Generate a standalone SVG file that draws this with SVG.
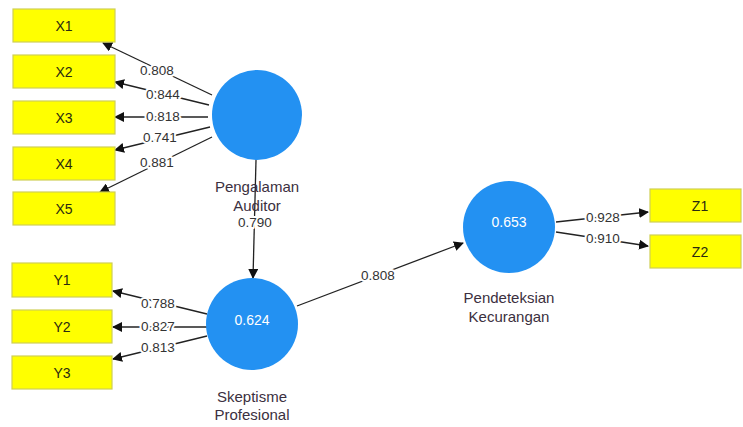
<svg xmlns="http://www.w3.org/2000/svg" width="743" height="427" viewBox="0 0 743 427">
<defs>
<marker id="arr" viewBox="0 0 10 10" refX="9" refY="5" markerWidth="10" markerHeight="10" markerUnits="userSpaceOnUse" orient="auto">
<path d="M0,0 L10,5 L0,10 Z" fill="#111"/>
</marker>
<style>
.box{fill:#ffff00;stroke:#cfcf55;stroke-width:1.2}
.bt{font-family:"Liberation Sans",Arial,sans-serif;font-size:14px;fill:#2a2a10;text-anchor:middle}
.lv{fill:#2391f2}
.lvt{font-family:"Liberation Sans",Arial,sans-serif;font-size:14px;fill:#fff;text-anchor:middle}
.nl{font-family:"Liberation Sans",Arial,sans-serif;font-size:15px;fill:#3b3040;text-anchor:middle}
.ln{stroke:#222;stroke-width:1.3;fill:none;marker-end:url(#arr)}
.el{font-family:"Liberation Sans",Arial,sans-serif;font-size:13.5px;fill:#333;text-anchor:middle;stroke:#fff;stroke-width:4;paint-order:stroke;stroke-linejoin:round}
</style>
</defs>
<rect width="743" height="427" fill="#fff"/>
<g id="connectors">
<path class="ln" d="M212,95 L103,43"/>
<path class="ln" d="M209,105 L115,82"/>
<path class="ln" d="M208,117 L115,117"/>
<path class="ln" d="M210,127 L115,150"/>
<path class="ln" d="M212,137 L100,192"/>
<path class="ln" d="M207,314 L113,291"/>
<path class="ln" d="M207,327 L113,327"/>
<path class="ln" d="M207,336 L113,359"/>
<path class="ln" d="M556,222 L648,212"/>
<path class="ln" d="M556,232 L648,246"/>
<path class="ln" d="M297,306 L463,243"/>
<path class="ln" d="M256,160 L253,278"/>
<text class="el" x="157" y="75">0.808</text>
<text class="el" x="163" y="99">0.844</text>
<text class="el" x="163" y="121">0.818</text>
<text class="el" x="160" y="142">0.741</text>
<text class="el" x="157" y="167">0.881</text>
<text class="el" x="158" y="308">0.788</text>
<text class="el" x="158" y="331">0.827</text>
<text class="el" x="158" y="352">0.813</text>
<text class="el" x="603" y="222">0.928</text>
<text class="el" x="603" y="243">0.910</text>
<text class="el" x="378" y="280">0.808</text>
<text class="el" x="255" y="227">0.790</text>
</g>
<g id="X1"><rect class="box" x="13" y="9" width="102" height="33"/><text class="bt" x="64" y="30.5">X1</text></g>
<g id="X2"><rect class="box" x="13" y="55" width="102" height="33"/><text class="bt" x="64" y="76.5">X2</text></g>
<g id="X3"><rect class="box" x="13" y="101" width="102" height="33"/><text class="bt" x="64" y="122.5">X3</text></g>
<g id="X4"><rect class="box" x="13" y="147" width="102" height="33"/><text class="bt" x="64" y="168.5">X4</text></g>
<g id="X5"><rect class="box" x="13" y="192" width="102" height="33"/><text class="bt" x="64" y="213.5">X5</text></g>
<g id="Y1"><rect class="box" x="12" y="263" width="100" height="34"/><text class="bt" x="62" y="285">Y1</text></g>
<g id="Y2"><rect class="box" x="12" y="310" width="100" height="33"/><text class="bt" x="62" y="331.5">Y2</text></g>
<g id="Y3"><rect class="box" x="12" y="356" width="100" height="33"/><text class="bt" x="62" y="377.5">Y3</text></g>
<g id="Z1"><rect class="box" x="650" y="189" width="91" height="33"/><text class="bt" x="700" y="210.5">Z1</text></g>
<g id="Z2"><rect class="box" x="650" y="235" width="91" height="33"/><text class="bt" x="700" y="256.5">Z2</text></g>
<g id="PengalamanAuditor">
<circle class="lv" cx="257" cy="115" r="45"/>
<text class="nl" x="257" y="192">Pengalaman</text>
<text class="nl" x="257" y="211">Auditor</text>
</g>
<g id="SkeptismeProfesional">
<circle class="lv" cx="252" cy="324" r="46"/>
<text class="lvt" x="252" y="325">0.624</text>
<text class="nl" x="252" y="402">Skeptisme</text>
<text class="nl" x="252" y="420">Profesional</text>
</g>
<g id="PendeteksianKecurangan">
<circle class="lv" cx="509" cy="227" r="46"/>
<text class="lvt" x="509" y="227">0.653</text>
<text class="nl" x="509" y="303">Pendeteksian</text>
<text class="nl" x="509" y="322">Kecurangan</text>
</g>
</svg>
